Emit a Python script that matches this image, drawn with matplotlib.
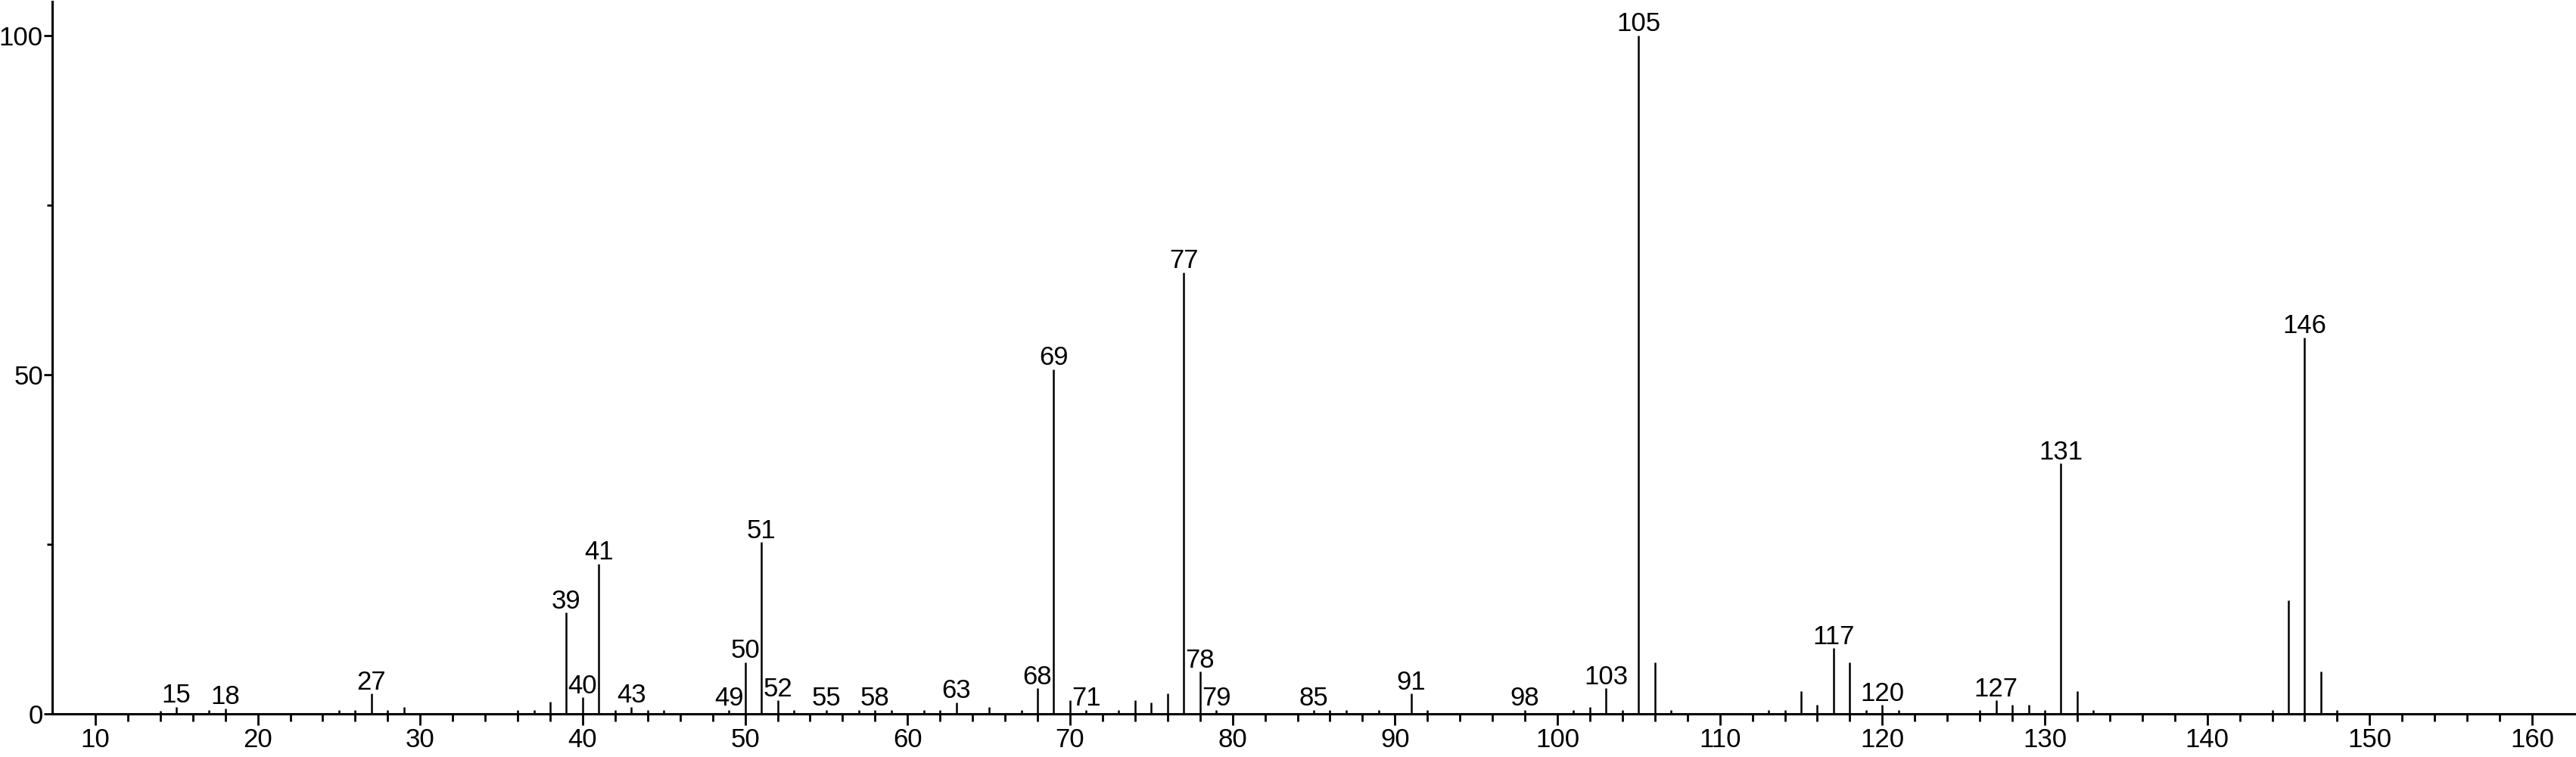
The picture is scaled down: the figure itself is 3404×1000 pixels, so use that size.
import matplotlib
matplotlib.use("Agg")
import matplotlib.pyplot as plt
from matplotlib.ticker import FixedLocator

plt.rcParams["font.family"] = ["Liberation Sans", "DejaVu Sans"]

# m/z and relative intensity
mz = [14, 15, 17, 18, 25, 26, 27, 28, 29, 36, 37, 38, 39, 40, 41, 42, 43, 44, 45,
      49, 50, 51, 52, 53, 55, 57, 58, 59, 61, 62, 63, 65, 67, 68, 69, 70, 71, 73,
      74, 75, 76, 77, 78, 79, 85, 86, 87, 89, 91, 92, 98, 101, 102, 103, 104, 105,
      106, 107, 113, 114, 115, 116, 117, 118, 119, 120, 121, 126, 127, 128, 129,
      130, 131, 132, 133, 144, 145, 146, 147, 148]
intensity = [0.5, 1.0, 0.6, 0.8, 0.6, 0.6, 3.0, 0.6, 1.0, 0.6, 0.6, 1.8, 14.9, 2.4,
             22.1, 0.6, 1.0, 0.6, 0.6, 0.6, 7.6, 25.3, 2.0, 0.6, 0.6, 0.6, 0.6, 0.6,
             0.6, 0.6, 1.7, 1.0, 0.6, 3.75, 50.8, 2.0, 0.6, 0.6, 2.0, 1.7, 3.0, 65.1,
             6.2, 0.6, 0.6, 0.6, 0.6, 0.6, 3.0, 0.6, 0.6, 0.6, 1.0, 3.75, 0.6, 100.0,
             7.6, 0.6, 0.6, 0.6, 3.4, 1.3, 9.7, 7.6, 0.6, 1.3, 0.6, 0.6, 2.0, 1.3, 1.3,
             0.6, 36.9, 3.4, 0.6, 0.6, 16.7, 55.5, 6.2, 0.6]

# peaks that carry a number above them
labelled = [15, 18, 27, 39, 40, 41, 43, 49, 50, 51, 52, 55, 58, 63, 68, 69, 71, 77,
            78, 79, 85, 91, 98, 103, 105, 117, 120, 127, 131, 146]

fig = plt.figure(figsize=(34.04, 10), dpi=100)
ax = fig.add_axes([0.0204, 0.057, 0.9796, 0.941])

ax.vlines(mz, 0, intensity, color="black", linewidth=1.8)

for m, h in zip(mz, intensity):
    if m in labelled:
        ax.annotate(str(m), (m, h), xytext=(0, 4), textcoords="offset points",
                    ha="center", va="baseline", fontsize=25)

ax.set_xlim(7.37, 162.7)
ax.set_ylim(0, 105)

ax.xaxis.set_major_locator(FixedLocator(range(10, 161, 10)))
ax.xaxis.set_minor_locator(FixedLocator([v for v in range(12, 160, 2) if v % 10]))
ax.yaxis.set_major_locator(FixedLocator([0, 50, 100]))
ax.yaxis.set_minor_locator(FixedLocator([25, 75]))

ax.tick_params(which="major", length=11, width=2.0, labelsize=25, pad=2, direction="out")
ax.tick_params(which="minor", length=7, width=2.0, direction="out")
ax.tick_params(axis="y", which="major", length=8, pad=1)
ax.tick_params(axis="y", which="minor", length=5)

for side in ["top", "right"]:
    ax.spines[side].set_visible(False)
for side in ["left", "bottom"]:
    ax.spines[side].set_linewidth(2.2)

fig.savefig("out.png", dpi=100)
